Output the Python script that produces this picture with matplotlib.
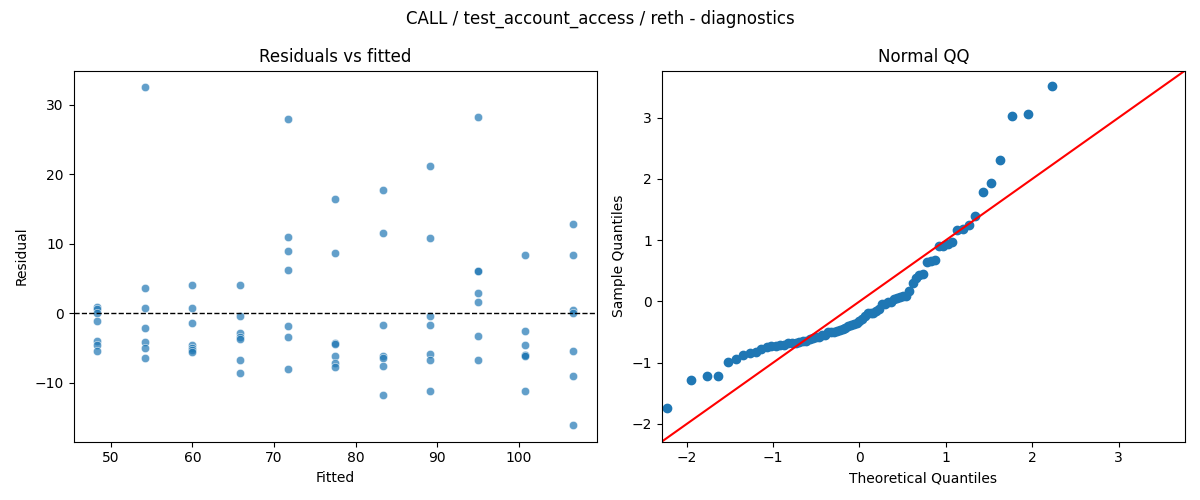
import numpy as np
import matplotlib
matplotlib.use('Agg')
import matplotlib.pyplot as plt
import seaborn as sns
from statistics import NormalDist

# ── Data ──────────────────────────────────────────────────────
FITTED_LEVELS = [48.33, 54.17, 60.0, 65.83, 71.67, 77.5,
                 83.33, 89.17, 95.0, 100.83, 106.67]

RESID_GROUPS = [
    [0.85, 0.6, -0.05, -1.15, -4.0, -4.6, -5.5],
    [32.5, 3.55, 0.7, -2.2, -4.2, -5.1, -6.5],
    [4.1, 0.8, -1.5, -4.6, -5.1, -5.35, -5.65],
    [4.0, -0.45, -2.9, -3.4, -3.7, -6.7, -8.7],
    [27.9, 10.9, 8.9, 6.2, -1.8, -3.5, -8.0],
    [16.5, 8.6, -4.35, -4.4, -6.2, -7.2, -7.7],
    [17.8, 11.5, -1.7, -6.2, -6.5, -7.6, -11.8],
    [21.25, 10.75, -0.45, -1.75, -5.9, -6.7, -11.2],
    [28.3, 6.0, 6.05, 2.85, 1.55, -3.3, -6.8],
    [8.4, -2.6, -4.65, -6.0, -6.1, -6.25, -11.2],
    [12.9, 8.3, 0.45, -0.05, -5.4, -9.1, -16.1],
]

fitted = np.concatenate([[lvl] * len(g) for lvl, g in zip(FITTED_LEVELS, RESID_GROUPS)])
resid = np.concatenate(RESID_GROUPS)

# standardized residuals vs normal quantiles (positions i/(n+1))
n = len(resid)
sample_q = np.sort((resid - resid.mean()) / resid.std())
theo_q = np.array([NormalDist().inv_cdf(i / (n + 1)) for i in range(1, n + 1)])

QQ_LIM = (-2.29, 3.77)

# ── Figure ────────────────────────────────────────────────────
fig, (ax1, ax2) = plt.subplots(1, 2, figsize=(12, 5), dpi=100)

sns.scatterplot(x=fitted, y=resid, alpha=0.7, ax=ax1)
ax1.axhline(0, color='black', linestyle='--', linewidth=1)
ax1.set_title('Residuals vs fitted')
ax1.set_xlabel('Fitted')
ax1.set_ylabel('Residual')

ax2.plot(theo_q, sample_q, marker='o', linestyle='none', color='C0')
ax2.plot(QQ_LIM, QQ_LIM, 'r-')
ax2.set_xlim(QQ_LIM)
ax2.set_ylim(QQ_LIM)
ax2.set_title('Normal QQ')
ax2.set_xlabel('Theoretical Quantiles')
ax2.set_ylabel('Sample Quantiles')

fig.suptitle('CALL / test_account_access / reth - diagnostics')
fig.tight_layout()
fig.savefig('out.png', dpi=100)
